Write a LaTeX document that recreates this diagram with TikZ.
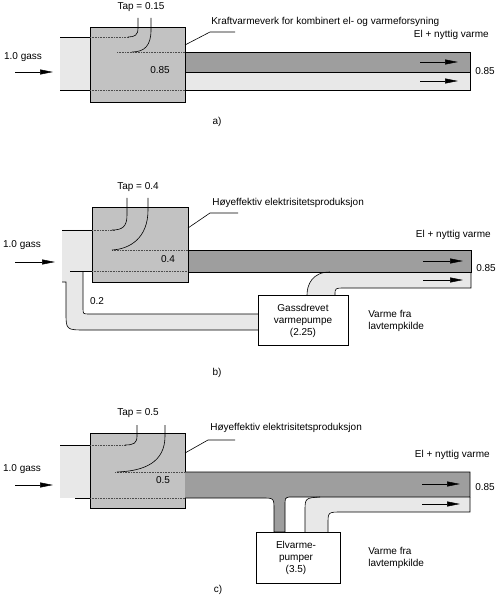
\documentclass[tikz,border=0pt]{standalone}
\usepackage{xcolor}
\usepackage{fontspec}
\usepackage{tikz}
\usetikzlibrary{arrows.meta}
\setmainfont{Liberation Sans}
\definecolor{lys}{gray}{0.91}
\definecolor{boks}{gray}{0.76}
\definecolor{mork}{gray}{0.62}

\begin{document}
\begin{tikzpicture}[x=1pt, y=-1pt, font=\fontsize{10}{12}\selectfont, line width=0.6pt,
	lysband/.style={fill=lys},
	verk/.style={fill=boks, draw, line width=0.9pt},
	morkband/.style={fill=mork, draw},
	innerlinje/.style={densely dotted, draw=black!70},
	pil/.style={-{Triangle[length=13pt, width=5pt]}, line width=0.5pt},
	pumpe/.style={fill=white, draw, line width=0.7pt},
	tekst/.style={inner sep=0pt, align=center}]
\useasboundingbox (0,0) rectangle (500,601);

% a)
\fill[lysband] (60,37) rectangle (185,90);
\fill[lysband] (185,72) rectangle (470,90);
\draw[verk] (90,27) rectangle (185,102);
\draw[morkband] (185,52) rectangle (470,72);
\draw (60,37) -- (90,37);
\draw (60,90) -- (90,90);
\draw (185,90) -- (470,90) -- (470,72);
\draw[innerlinje] (90,37) -- (129,37);
\draw[innerlinje] (90,90) -- (185,90);
\draw[innerlinje] (117,52) -- (185,52);
\draw (138,18) -- (138,28) .. controls (138,35) and (135,37) .. (128,37);
\draw (151,18) -- (151,30) .. controls (151,45) and (145,52) .. (132,52);
\draw (185,45) -- (210,32) -- (235,32);
\draw[pil] (15,72) -- (53,72);
\draw[pil] (420,62) -- (458,62);
\draw[pil] (420,81) -- (458,81);
\node[tekst] (tapa) at (141,7) {Tap = 0.15};
\node[tekst, anchor=west] (verka) at (211,22) {Kraftvarmeverk for kombinert el- og varmeforsyning};
\node[tekst, anchor=east] (nytta) at (489,35) {El + nyttig varme};
\node[tekst] (gassa) at (23,57) {1.0 gass};
\node[tekst] (inna) at (160,70) {0.85};
\node[tekst, anchor=west] (uta) at (475,71) {0.85};
\node[tekst] (a) at (217,122) {a)};

% b)
\fill[lysband] (62,230) -- (150,230) -- (150,271) -- (83,271) -- (83,308)
	.. controls (83,314) .. (89,314) -- (258,314) -- (258,330) -- (86,330)
	.. controls (66,330) .. (66,312) -- (66,282) -- (62,282) -- cycle;
\fill[lysband] (330,272) .. controls (312,272) and (307,285) .. (307,295) -- (335,295)
	.. controls (335,288) .. (345,288) -- (471,288) -- (471,272) -- cycle;
\draw[verk] (92,207) rectangle (188,282);
\draw[morkband] (188,250) rectangle (471,272);
\draw (62,230) -- (92,230);
\draw (70,271) -- (92,271);
\draw (62,282) -- (66,282) -- (66,312) .. controls (66,330) .. (86,330) -- (258,330);
\draw (83,271) -- (83,308) .. controls (83,314) .. (89,314) -- (258,314);
\draw (330,272) .. controls (312,272) and (307,285) .. (307,295);
\draw (335,295) .. controls (335,288) .. (345,288) -- (471,288) -- (471,272);
\draw[innerlinje] (92,230) -- (115,230);
\draw[innerlinje] (92,271) -- (188,271);
\draw[innerlinje] (112,250) -- (188,250);
\draw (127,198) -- (127,215) .. controls (127,227) and (122,230) .. (112,230);
\draw (148,198) -- (148,210) .. controls (148,238) and (130,249) .. (112,250);
\draw (188,228) -- (210,213) -- (238,213);
\draw[pumpe] (258,295) rectangle (348,345);
\draw[pil] (15,262) -- (55,262);
\draw[pil] (423,261) -- (463,261);
\draw[pil] (423,280) -- (463,280);
\node[tekst] (tapb) at (138,187) {Tap = 0.4};
\node[tekst, anchor=west] (verkb) at (212,203) {Høyeffektiv elektrisitetsproduksjon};
\node[tekst, anchor=east] (nyttb) at (491,235) {El + nyttig varme};
\node[tekst] (gassb) at (22,245) {1.0 gass};
\node[tekst] (innb) at (168,259) {0.4};
\node[tekst] (tilb) at (97,301) {0.2};
\node[tekst, anchor=west] (utb) at (476,268) {0.85};
\node[tekst] (pumpeb) at (303,321) {Gassdrevet\\varmepumpe\\(2.25)};
\node[tekst, align=left, anchor=west] (kildeb) at (368,321) {Varme fra\\lavtempkilde};
\node[tekst] (b) at (217,373) {b)};

% c)
\fill[lysband] (60,445) rectangle (120,498);
\fill[lysband] (320,497) -- (470,497) -- (470,512) -- (342,512) .. controls (328,512) .. (328,524)
	-- (328,532) -- (305,532) -- (305,512) .. controls (305,498) .. (320,497) -- cycle;
\draw[verk] (90,433) rectangle (185,508);
\draw[morkband] (185,472) -- (470,472) -- (470,497) -- (289,497) .. controls (285,498) .. (285,506)
	-- (285,532) -- (274,532) -- (274,510) .. controls (274,498) .. (262,498) -- (185,498);
\draw (60,445) -- (90,445);
\draw (75,498) -- (90,498);
\draw (305,532) -- (305,512) .. controls (305,498) .. (320,497);
\draw (328,532) -- (328,524) .. controls (328,512) .. (342,512) -- (470,512) -- (470,497);
\draw[innerlinje] (90,445) -- (126,445);
\draw[innerlinje] (90,498) -- (185,498);
\draw[innerlinje] (115,472) -- (185,472);
\draw (137,425) -- (137,436) .. controls (137,443) and (134,445) .. (125,445);
\draw (165,425) -- (165,436) .. controls (165,462) and (145,471) .. (117,472);
\draw (185,453) -- (208,440) -- (235,440);
\draw[pumpe] (256,532) rectangle (340,583);
\draw[pil] (15,485) -- (53,485);
\draw[pil] (422,484) -- (460,484);
\draw[pil] (422,504) -- (460,504);
\node[tekst] (tapc) at (138,413) {Tap = 0.5};
\node[tekst, anchor=west] (verkc) at (210,428) {Høyeffektiv elektrisitetsproduksjon};
\node[tekst, anchor=east] (nyttc) at (490,455) {El + nyttig varme};
\node[tekst] (gassc) at (22,469) {1.0 gass};
\node[tekst] (innc) at (163,480) {0.5};
\node[tekst, anchor=west] (utc) at (475,487) {0.85};
\node[tekst] (pumpec) at (296,558) {Elvarme-\\pumper\\(3.5)};
\node[tekst, align=left, anchor=west] (kildec) at (368,558) {Varme fra\\lavtempkilde};
\node[tekst] (c) at (218,590) {c)};
\end{tikzpicture}
\end{document}
